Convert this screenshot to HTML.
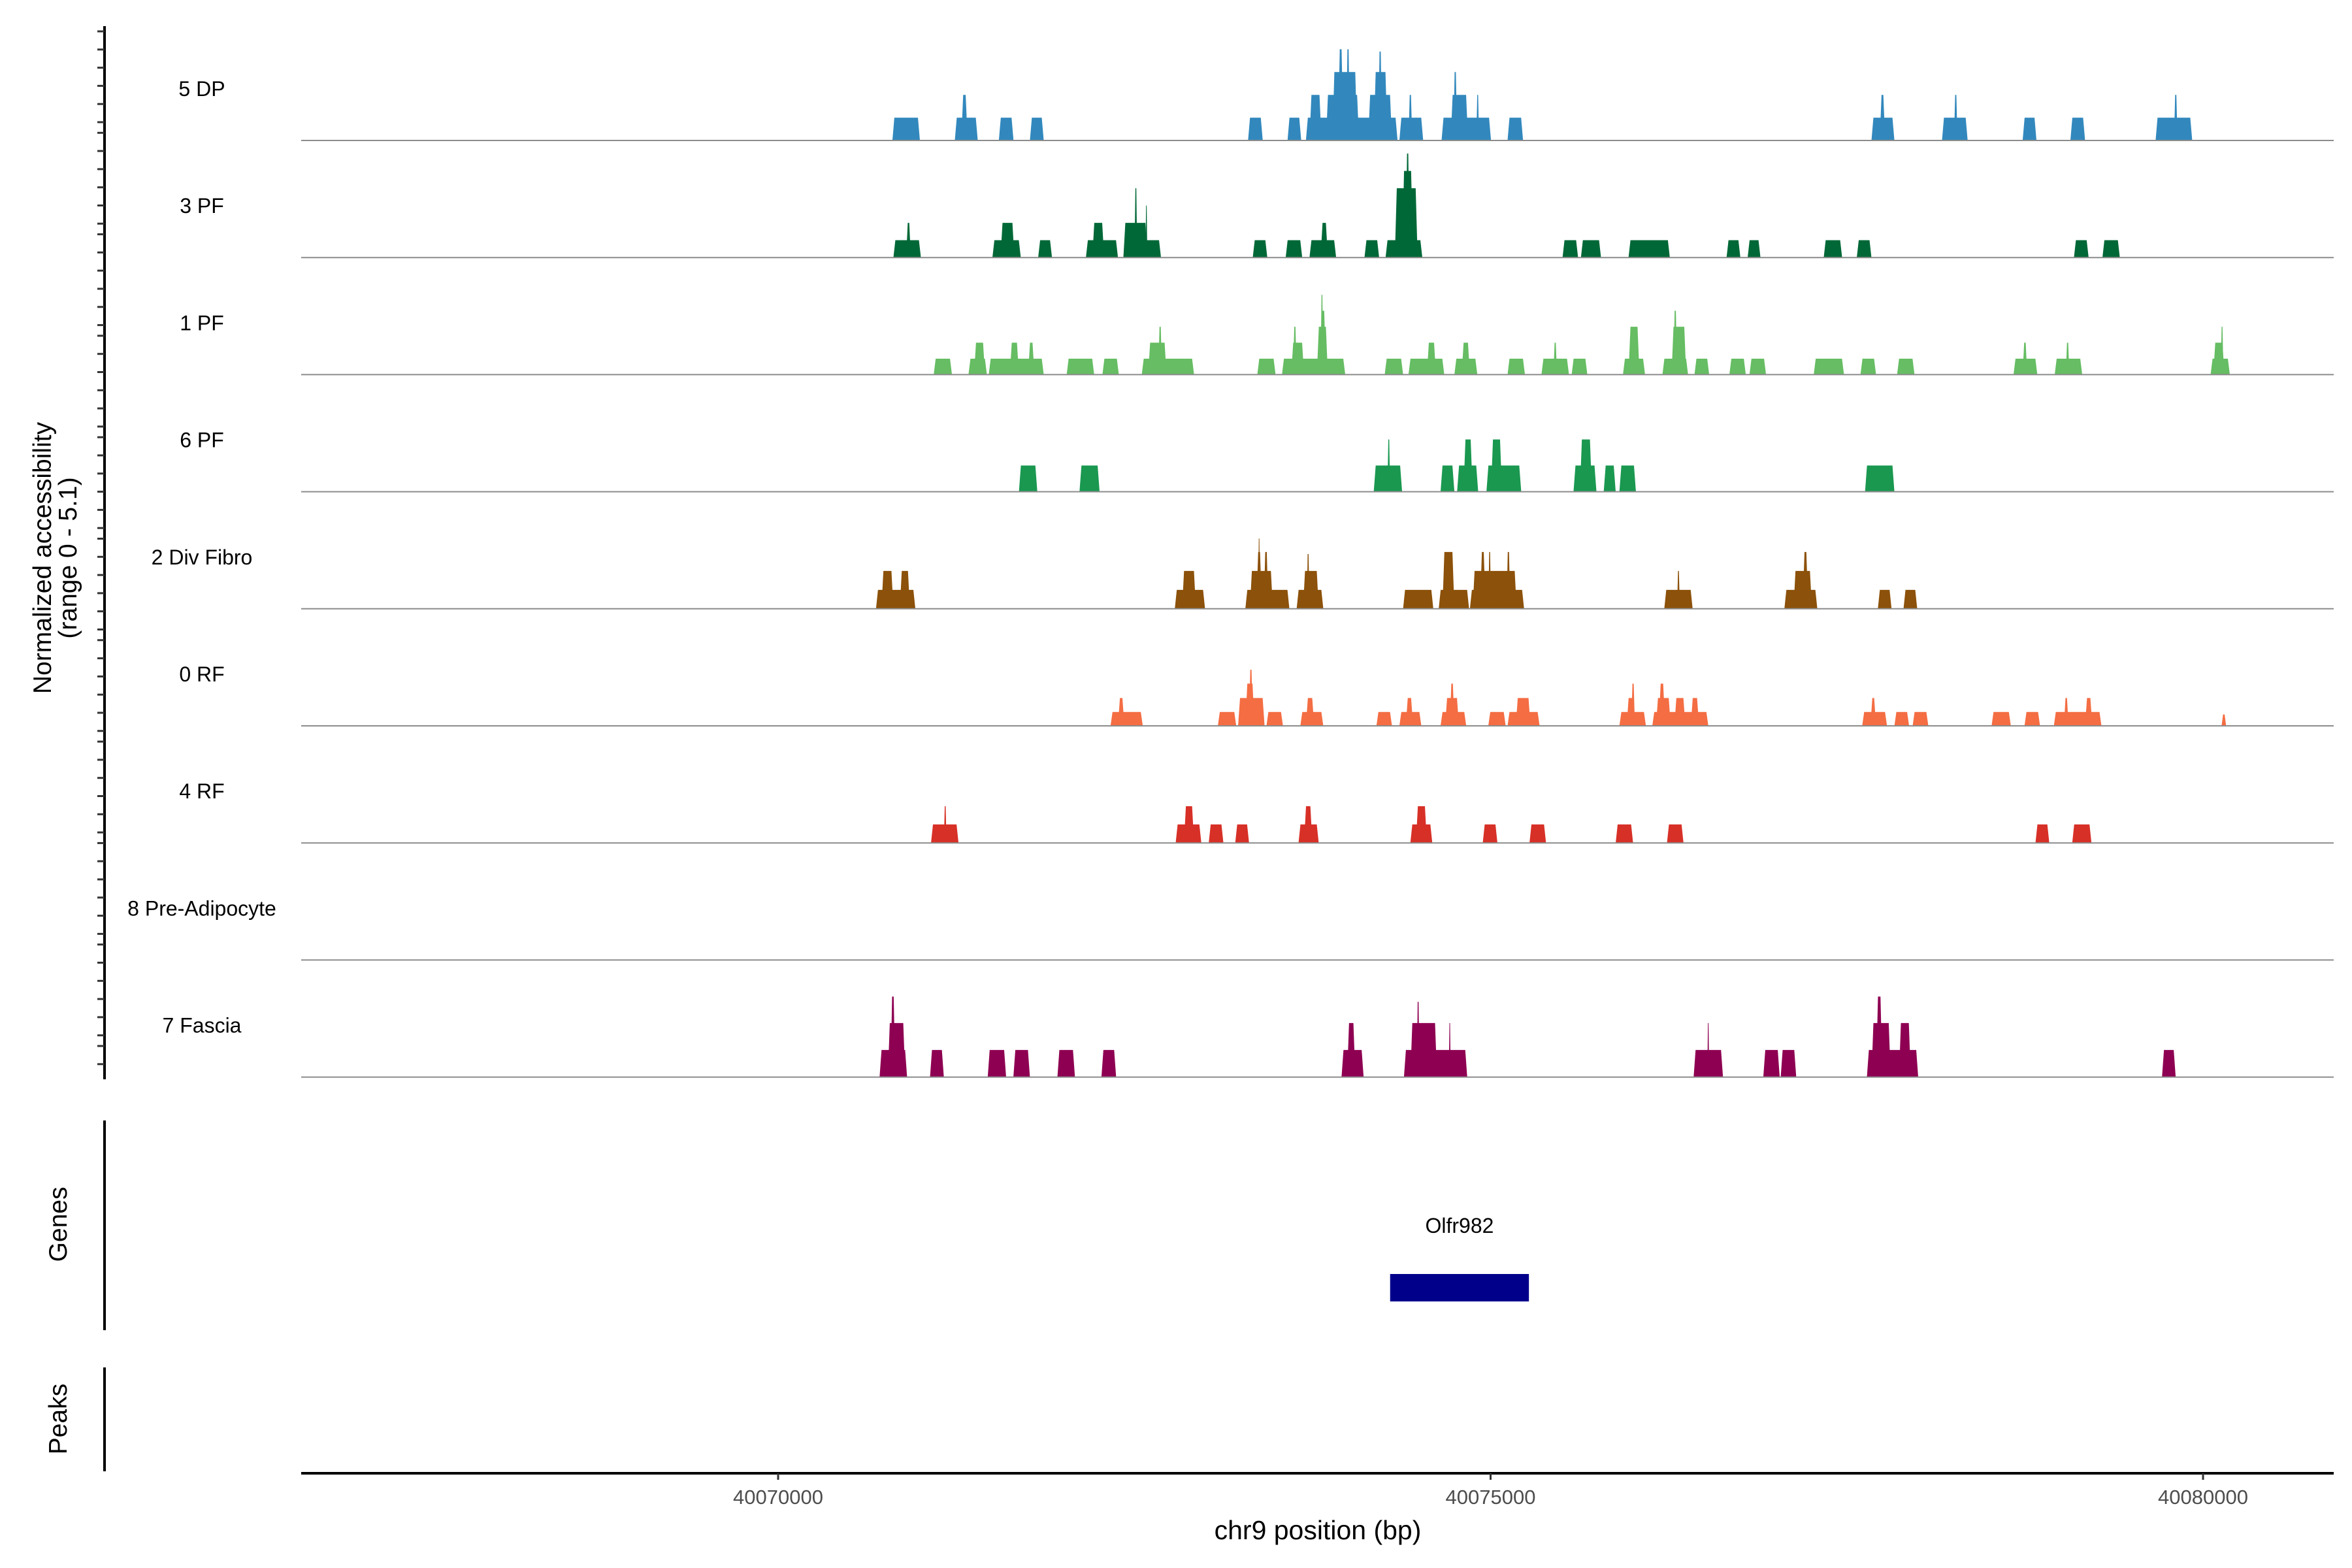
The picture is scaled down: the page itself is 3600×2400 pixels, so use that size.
<!DOCTYPE html>
<html><head><meta charset="utf-8"><style>
html,body{margin:0;padding:0;background:#fff}
svg{display:block;font-family:"Liberation Sans",Arial,sans-serif}
</style></head><body>
<svg id="chart" width="3600" height="2400" viewBox="0 0 3600 2400" xmlns="http://www.w3.org/2000/svg">
<g id="tracks"></g>
<g id="yaxis"></g>
<text transform="translate(78,854) rotate(-90)" text-anchor="middle" font-size="39" fill="#000">Normalized accessibility</text>
<text transform="translate(117,854) rotate(-90)" text-anchor="middle" font-size="39" fill="#000">(range 0 - 5.1)</text>
<line x1="160" y1="1715" x2="160" y2="2036" stroke="#000" stroke-width="4"/>
<text transform="translate(102,1874) rotate(-90)" text-anchor="middle" font-size="39" fill="#000">Genes</text>
<g id="genes"></g>
<line x1="160" y1="2093" x2="160" y2="2252" stroke="#000" stroke-width="4"/>
<text transform="translate(102,2172) rotate(-90)" text-anchor="middle" font-size="39" fill="#000">Peaks</text>
<line x1="461" y1="2255" x2="3572" y2="2255" stroke="#000" stroke-width="4"/>
<g id="xaxis"></g>
<text x="2017" y="2356" text-anchor="middle" font-size="41" fill="#000">chr9 position (bp)</text>
</svg>
<script>
const trackNames = ["5 DP","3 PF","1 PF","6 PF","2 Div Fibro","0 RF","4 RF","8 Pre-Adipocyte","7 Fascia"];
const trackColors = ["#3288BD","#006837","#66BD63","#1A9850","#8C510A","#F46D43","#D73027","#FDAE61","#8E0152"];
const xTicks = [40070000,40075000,40080000];
const geneNames = ["Olfr982"];
const geneStarts = [40074295];
const geneEnds = [40075269];
// coverage blocks [startBp, endBp, height]
const dp5 = [[40070802,40070995,1],[40071240,40071401,1],[40071285,40071330,2],[40071549,40071652,1],[40071767,40071864,1],[40073298,40073401,1],[40073575,40073671,1],[40073704,40074347,1],[40073729,40073813,2],[40073845,40074077,2],[40073890,40074064,3],[40073929,40073967,4],[40073987,40074012,4],[40074141,40074308,2],[40074180,40074276,3],[40074212,40074238,3.9],[40074360,40074527,1],[40074424,40074450,2],[40074656,40075003,1],[40074720,40074842,2],[40074739,40074765,3],[40074900,40074919,2],[40075119,40075228,1],[40077673,40077834,1],[40077731,40077769,2],[40078168,40078348,1],[40078252,40078277,2],[40078734,40078831,1],[40079069,40079172,1],[40079667,40079924,1],[40079796,40079821,2]];
const pf3 = [[40070809,40071002,0.76],[40070899,40070931,1.52],[40071504,40071703,0.76],[40071561,40071658,1.52],[40071825,40071922,0.76],[40072160,40072385,0.76],[40072205,40072288,1.52],[40072423,40072687,0.76],[40072423,40072591,1.52],[40072501,40072520,3.04],[40072578,40072591,2.28],[40073331,40073433,0.76],[40073562,40073678,0.76],[40073729,40073916,0.76],[40073807,40073858,1.52],[40074115,40074218,0.76],[40074263,40074521,0.76],[40074328,40074488,3.04],[40074379,40074456,3.8],[40074405,40074431,4.56],[40075505,40075614,0.76],[40075634,40075775,0.76],[40075968,40076258,0.76],[40076656,40076753,0.76],[40076804,40076894,0.76],[40077338,40077467,0.76],[40077570,40077673,0.76],[40079094,40079197,0.76],[40079294,40079416,0.76]];
const pf1 = [[40071092,40071220,0.7],[40071336,40071465,0.7],[40071375,40071452,1.4],[40071478,40071864,0.7],[40071626,40071690,1.4],[40071754,40071799,1.4],[40072025,40072218,0.7],[40072276,40072391,0.7],[40072552,40072919,0.7],[40072597,40072726,1.4],[40072668,40072694,2.1],[40073363,40073491,0.7],[40073536,40073980,0.7],[40073601,40073691,1.4],[40073614,40073639,2.1],[40073781,40073858,2.1],[40073807,40073845,2.8],[40073807,40073826,3.5],[40074257,40074386,0.7],[40074424,40074675,0.7],[40074553,40074617,1.4],[40074746,40074907,0.7],[40074797,40074855,1.4],[40075119,40075241,0.7],[40075357,40075550,0.7],[40075441,40075466,1.4],[40075569,40075679,0.7],[40075929,40076084,0.7],[40075968,40076045,2.1],[40076206,40076386,0.7],[40076270,40076373,2.1],[40076283,40076309,2.8],[40076431,40076534,0.7],[40076676,40076791,0.7],[40076817,40076933,0.7],[40077268,40077480,0.7],[40077596,40077705,0.7],[40077853,40077975,0.7],[40078670,40078837,0.7],[40078734,40078766,1.4],[40078959,40079152,0.7],[40079037,40079062,1.4],[40080053,40080188,0.7],[40080072,40080150,1.4],[40080124,40080143,2.1]];
const pf6 = [[40071690,40071819,1.15],[40072115,40072256,1.15],[40074180,40074379,1.15],[40074276,40074295,2.29],[40074649,40074746,1.15],[40074765,40074913,1.15],[40074810,40074874,2.29],[40074971,40075215,1.15],[40075003,40075080,2.29],[40075582,40075743,1.15],[40075627,40075711,2.29],[40075794,40075878,1.15],[40075904,40076020,1.15],[40077628,40077834,1.15]];
const divFibro2 = [[40070687,40070963,0.83],[40070725,40070809,1.66],[40070854,40070925,1.66],[40072784,40072996,0.83],[40072835,40072932,1.66],[40073279,40073588,0.83],[40073311,40073472,1.66],[40073356,40073395,2.49],[40073369,40073382,3.08],[40073408,40073440,2.49],[40073639,40073826,0.83],[40073684,40073794,1.66],[40073710,40073729,2.4],[40074386,40074598,0.83],[40074636,40074849,0.83],[40074662,40074746,2.49],[40074855,40075235,0.83],[40074874,40075183,1.66],[40074926,40074965,2.49],[40074984,40075003,2.49],[40075112,40075138,2.49],[40076219,40076418,0.83],[40076309,40076328,1.66],[40077062,40077293,0.83],[40077126,40077255,1.66],[40077190,40077229,2.49],[40077718,40077814,0.83],[40077898,40077994,0.83]];
const rf0 = [[40072333,40072559,0.61],[40072385,40072430,1.22],[40073086,40073215,0.61],[40073228,40073414,1.22],[40073279,40073343,1.85],[40073305,40073331,2.46],[40073427,40073543,0.61],[40073665,40073826,0.61],[40073704,40073762,1.22],[40074199,40074308,0.61],[40074360,40074514,0.61],[40074405,40074456,1.22],[40074649,40074829,0.61],[40074681,40074778,1.22],[40074714,40074746,1.85],[40074984,40075106,0.61],[40075119,40075344,0.61],[40075177,40075280,1.22],[40075904,40076090,0.61],[40075955,40076007,1.22],[40075987,40076013,1.85],[40076135,40076528,0.61],[40076161,40076264,1.22],[40076180,40076225,1.85],[40076290,40076367,1.22],[40076405,40076463,1.22],[40077608,40077782,0.61],[40077666,40077705,1.22],[40077834,40077937,0.61],[40077962,40078072,0.61],[40078516,40078651,0.61],[40078747,40078856,0.61],[40078953,40079287,0.61],[40079024,40079056,1.22],[40079172,40079223,1.22],[40080130,40080162,0.5]];
const rf4 = [[40071073,40071266,0.81],[40071163,40071182,1.61],[40072790,40072970,0.81],[40072848,40072919,1.61],[40073022,40073125,0.81],[40073208,40073305,0.81],[40073652,40073794,0.81],[40073691,40073749,1.61],[40074437,40074591,0.81],[40074476,40074553,1.61],[40074945,40075048,0.81],[40075273,40075389,0.81],[40075878,40076000,0.81],[40076238,40076354,0.81],[40078824,40078921,0.81],[40079082,40079217,0.81]];
const preAdipo8 = [];
const fascia7 = [[40070712,40070905,1.19],[40070770,40070892,2.37],[40070789,40070822,3.53],[40071066,40071163,1.19],[40071471,40071600,1.19],[40071651,40071767,1.19],[40071960,40072083,1.19],[40072269,40072372,1.19],[40073954,40074109,1.19],[40073993,40074051,2.37],[40074392,40074836,1.19],[40074437,40074624,2.37],[40074482,40074501,3.3],[40074707,40074720,2.37],[40076425,40076631,1.19],[40076521,40076534,2.37],[40076914,40077029,1.19],[40077036,40077145,1.19],[40077641,40078001,1.19],[40077673,40077808,2.37],[40077705,40077750,3.53],[40077866,40077949,2.37],[40079712,40079808,1.19]];
const trackData = [dp5,pf3,pf1,pf6,divFibro2,rf0,rf4,preAdipo8,fascia7];

const NS = "http://www.w3.org/2000/svg";
const xScale = bp => 1191 + (bp - 40070000) * 0.2181;
const baseY = i => 215 + 179.2 * i;
const yScale = (i, h) => baseY(i) - h * 34.9;
function mk(tag, attrs, parent){const e=document.createElementNS(NS,tag);for(const k in attrs)e.setAttribute(k,attrs[k]);parent.appendChild(e);return e;}

const tracksG = document.getElementById('tracks');
trackNames.forEach((name,i)=>{
  const g = mk('g',{},tracksG);
  
  
  trackData[i].forEach((b,j)=>{
    const x0=xScale(b[0]), x1=xScale(b[1]), yb=baseY(i), yt=yScale(i,b[2]);
    const s=Math.min(3,(x1-x0)/3);
    const p = mk('polygon',{points:`${x0},${yb} ${x0+s},${yt} ${x1-s},${yt} ${x1},${yb}`,fill:trackColors[i]},g);
    
    
  });
  const ln = mk('line',{x1:461,y1:baseY(i),x2:3572,y2:baseY(i),stroke:'#8c8c8c','stroke-width':2},g);
  
  
  const t = mk('text',{x:309,y:baseY(i)-68,'text-anchor':'middle','font-size':32,fill:'#000'},g);
  t.textContent = name;
  
  
});

const ya = document.getElementById('yaxis');
const al = mk('line',{x1:160,y1:40,x2:160,y2:1652,stroke:'#000','stroke-width':4},ya);


for(let gI=0; gI<11; gI++){
  for(let k=0;k<6;k++){
    const y = 48 + gI*155.3 + k*27.8;
    if(y>1650) break;
    const tk = mk('line',{x1:149,y1:y,x2:160,y2:y,stroke:'#333','stroke-width':3},ya);
    
    
  }
}

const xa = document.getElementById('xaxis');
xTicks.forEach(v=>{
  const x=xScale(v);
  const tk = mk('line',{x1:x,y1:2255,x2:x,y2:2265,stroke:'#333','stroke-width':3},xa);
  
  
  const t = mk('text',{x:x,y:2302,'text-anchor':'middle','font-size':31,fill:'#4d4d4d'},xa);
  t.textContent = String(v);
  
  
});

const gg = document.getElementById('genes');
geneNames.forEach((n,i)=>{
  const x0=xScale(geneStarts[i]), x1=xScale(geneEnds[i]);
  const r = mk('rect',{x:x0,y:1950,width:x1-x0,height:42,fill:'#00008B'},gg);
  
  
  const t = mk('text',{x:(x0+x1)/2,y:1887,'text-anchor':'middle','font-size':32,fill:'#000'},gg);
  t.textContent = n;
  
  
});
</script>
</body></html>
